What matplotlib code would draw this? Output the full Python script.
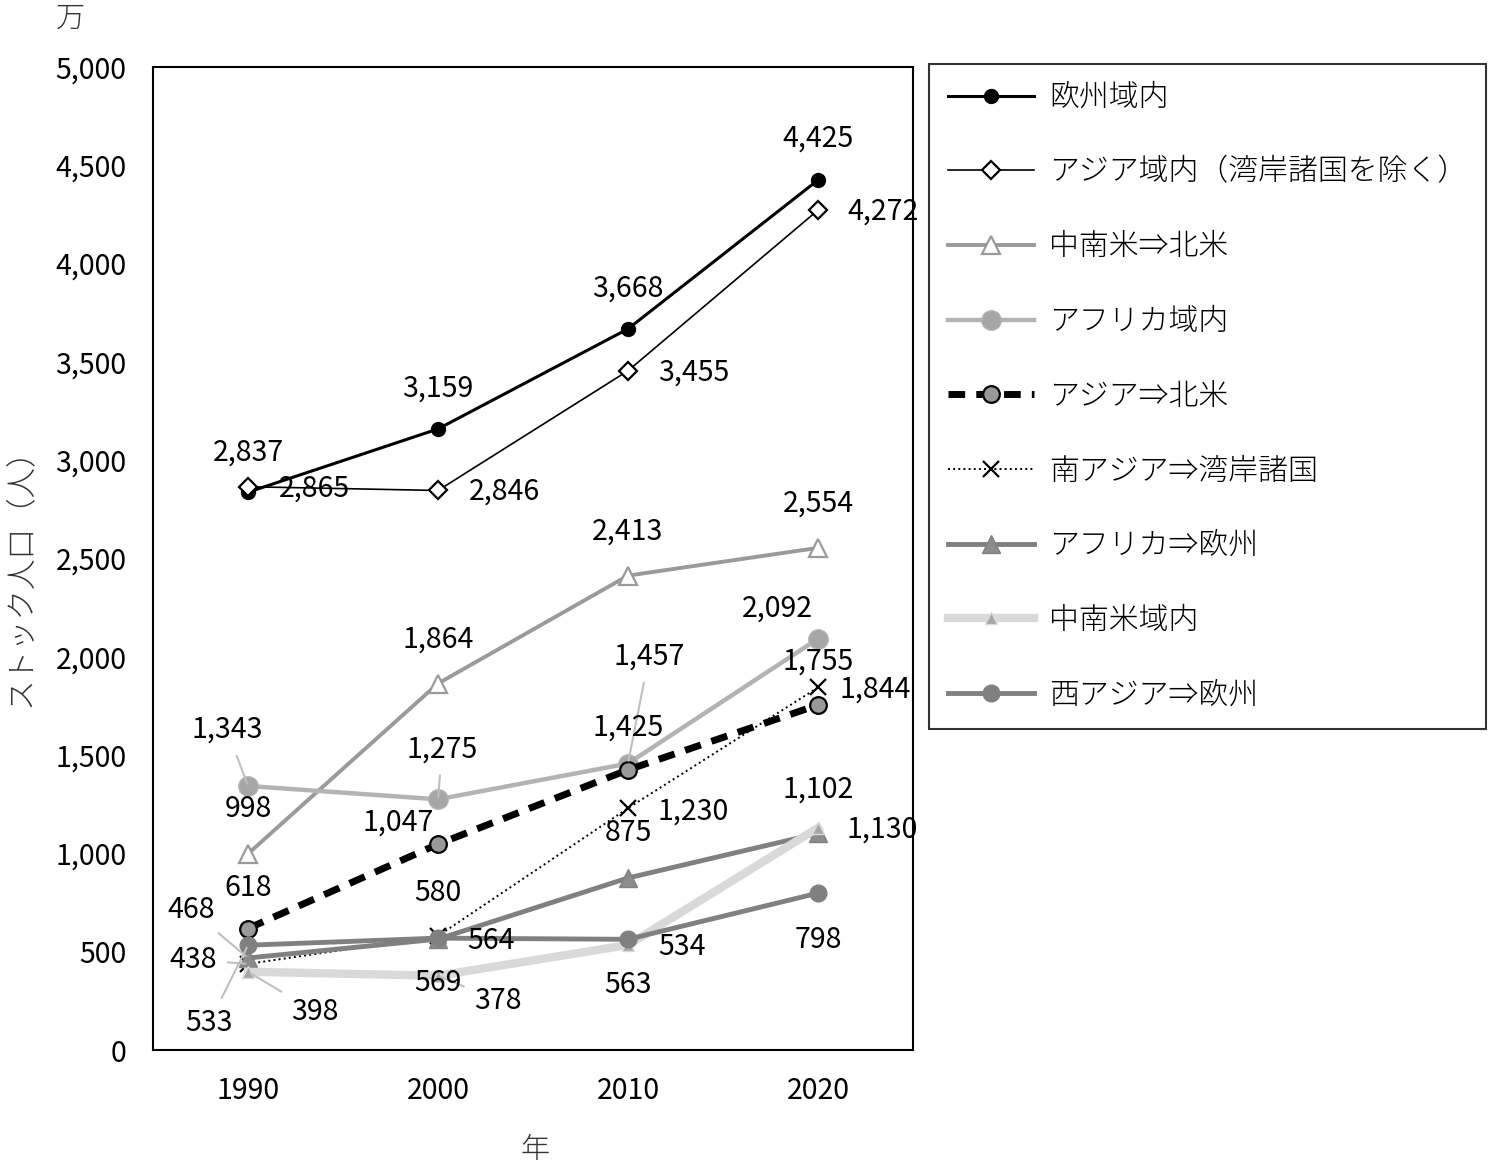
import matplotlib
matplotlib.use("Agg")
import matplotlib.pyplot as plt
from matplotlib.ticker import FuncFormatter

plt.rcParams['font.family'] = ['Noto Sans CJK JP', 'DejaVu Sans']

# DATA
years = ["1990", "2000", "2010", "2020"]
europe = [2837, 3159, 3668, 4425]
asia = [2865, 2846, 3455, 4272]
latam_na = [998, 1864, 2413, 2554]
africa = [1343, 1275, 1457, 2092]
asia_na = [618, 1047, 1425, 1755]
sasia_gulf = [438, 580, 1230, 1844]
africa_eu = [468, 564, 875, 1102]
latam = [398, 378, 534, 1130]
wasia_eu = [533, 569, 563, 798]

names = ["欧州域内", "アジア域内（湾岸諸国を除く）", "中南米⇒北米", "アフリカ域内",
         "アジア⇒北米", "南アジア⇒湾岸諸国", "アフリカ⇒欧州", "中南米域内", "西アジア⇒欧州"]
series = [europe, asia, latam_na, africa, asia_na, sasia_gulf, africa_eu, latam, wasia_eu]

styles = [
    dict(color="black", lw=2.2, marker="o", ms=10, mfc="black", mec="black"),
    dict(color="black", lw=1.2, marker="D", ms=9, mfc="white", mec="black", mew=1.6),
    dict(color="#9a9a9a", lw=2.8, marker="^", ms=13, mfc="white", mec="#9a9a9a", mew=1.6),
    dict(color="#b3b3b3", lw=3.2, marker="o", ms=14, mfc="#a6a6a6", mec="#b3b3b3"),
    dict(color="black", lw=5, ls=(0, (2.4, 1.6)), marker="o", ms=12, mfc="#999999", mec="black", mew=1.6),
    dict(color="black", lw=1.4, ls=":", marker="x", ms=11, mec="black", mew=1.6),
    dict(color="#808080", lw=3.5, marker="^", ms=13, mfc="#8c8c8c", mec="#808080"),
    dict(color="#d9d9d9", lw=6, marker="^", ms=9, mfc="#a6a6a6", mec="#d9d9d9"),
    dict(color="#808080", lw=3.5, marker="o", ms=12, mfc="#808080", mec="#808080"),
]

# label offsets in pixels (dx, dy), optional leader line
offsets = [
    [(0, 40), (0, 40), (0, 40), (0, 41)],
    [(66, -2), (66, -1), (66, -2), (65, -1)],
    [(0, 45), (0, 44), (0, 44), (0, 44)],
    [(-21, 56, True), (4, 50, True), (21, 107, True), (-41, 30)],
    [(0, 41), (-40, 22), (0, 42), (0, 43)],
    [(-55, 4, True), (0, 43), (65, -3), (57, -2)],
    [(-57, 48, True), (53, -2), (0, 45), (0, 44)],
    [(67, -40, True), (60, -25, True), (54, -2), (64, -2)],
    [(-39, -78, True), (0, -45), (0, -46), (0, -47)],
]

fig = plt.figure(figsize=(14.89, 11.74), dpi=100)
ax = fig.add_axes([153/1489, 1-1050/1174, 760/1489, 983/1174])

x = list(range(len(years)))
for i, (name, vals, st) in enumerate(zip(names, series, styles)):
    ax.plot(x, vals, label=name, zorder=3+i, clip_on=False, **st)

for vals, offs in zip(series, offsets):
    for xi, v, off in zip(x, vals, offs):
        dx, dy = off[0], off[1]
        kw = {}
        if len(off) > 2:
            kw["arrowprops"] = dict(arrowstyle="-", color="#bfbfbf", lw=1.5,
                                    shrinkA=6, shrinkB=2)
        ax.annotate(f"{v:,}", (xi, v), xytext=(dx, dy), textcoords="offset pixels",
                    ha="center", va="center", fontsize=20.5, zorder=20, **kw)

ax.set_xlim(-0.5, 3.5)
ax.set_ylim(0, 5000)
ax.set_yticks(range(0, 5001, 500))
ax.yaxis.set_major_formatter(FuncFormatter(lambda v, p: f"{int(v):,}"))
ax.set_xticks(x)
ax.set_xticklabels(years)
ax.tick_params(axis="both", length=0, labelsize=20.5)
ax.tick_params(axis="y", pad=19)
ax.tick_params(axis="x", pad=19)
for s in ax.spines.values():
    s.set_linewidth(1.5)
    s.set_color("black")

fig.text(20/1489, 1-570/1174, "ストック人口（人）", rotation=90, ha="center", va="center",
         fontsize=22, color="#333333", fontweight="light")
fig.text(70/1489, 1-18/1174, "万", ha="center", va="center", fontsize=21, color="#333333",
         fontweight="light")
fig.text(535/1489, 1-1150/1174, "年", ha="center", va="center", fontsize=21, color="#333333",
         fontweight="light")

leg = ax.legend(loc="upper left", bbox_to_anchor=(929/1489, 1-64/1174),
                bbox_transform=fig.transFigure, borderaxespad=0,
                prop=dict(size=21.5, weight="light"),
                handlelength=2.9, handletextpad=0.5, labelspacing=1.48,
                borderpad=0.62, frameon=True, fancybox=False)
leg.get_frame().set_edgecolor("black")
leg.get_frame().set_linewidth(1.5)

plt.savefig("out.png", dpi=100)
